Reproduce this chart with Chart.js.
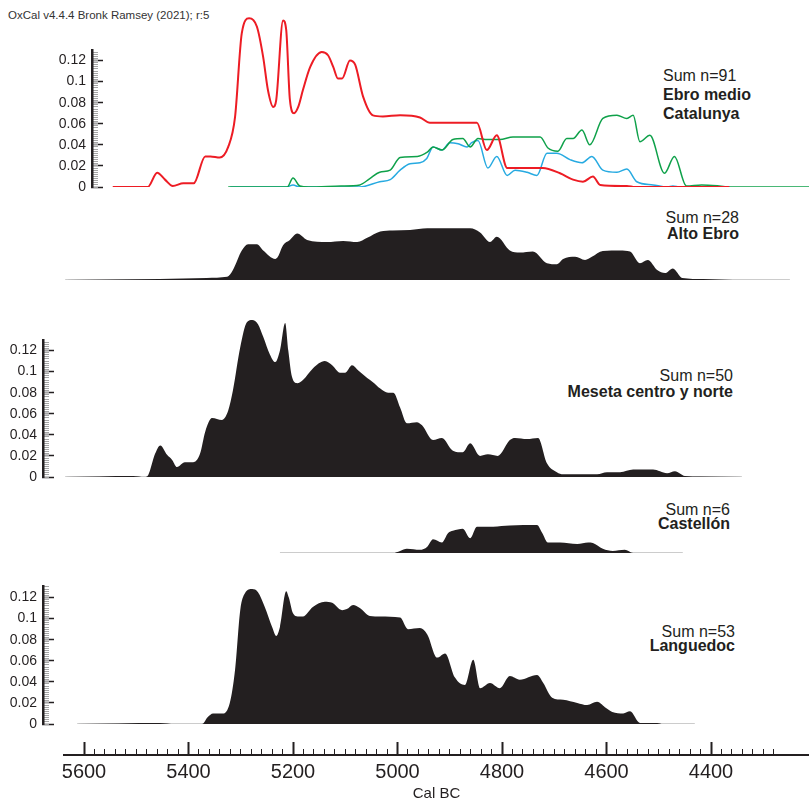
<!DOCTYPE html>
<html>
<head>
<meta charset="utf-8">
<script src="https://cdn.jsdelivr.net/npm/chart.js@4.4.0/dist/chart.umd.min.js"></script>
<style>
  body { margin: 0; background: #fff; }
  #wrap { position: relative; width: 809px; height: 803px; overflow: hidden; background: #fff;
          font-family: 'Liberation Sans', Arial, sans-serif; color: #231f20; }
  #wrap canvas { position: absolute; }
  .lbl { position: absolute; font-size: 16px; line-height: 16px; white-space: nowrap; }
  .b { font-weight: bold; }
</style>
</head>
<body>
<div id="wrap">
  <div class="lbl" style="left:8px;top:10px;font-size:11.5px;line-height:11.5px;color:#333">OxCal v4.4.4 Bronk Ramsey (2021); r:5</div>
  <div class="lbl" style="left:663px;top:67.5px">Sum n=91</div>
  <div class="lbl b" style="left:663px;top:86.5px">Ebro medio</div>
  <div class="lbl b" style="left:663px;top:105.5px">Catalunya</div>
  <div class="lbl" style="right:70px;top:209.5px">Sum n=28</div>
  <div class="lbl b" style="right:70px;top:225.5px">Alto Ebro</div>
  <div class="lbl" style="right:76px;top:367.5px">Sum n=50</div>
  <div class="lbl b" style="right:76px;top:383.5px">Meseta centro y norte</div>
  <div class="lbl" style="right:79px;top:501.5px">Sum n=6</div>
  <div class="lbl b" style="right:79px;top:515.5px">Castellón</div>
  <div class="lbl" style="right:74px;top:623.5px">Sum n=53</div>
  <div class="lbl b" style="right:74px;top:637.5px">Languedoc</div>
</div>
<script>
// datos (Cal BC, probabilidad sumada)
const redYears = [5545, 5478, 5460, 5445, 5430, 5410, 5390, 5368, 5358, 5340, 5324, 5311, 5298, 5284, 5269, 5257, 5248, 5238, 5232, 5219, 5213, 5206, 5198, 5190, 5181, 5167, 5145, 5133, 5123, 5114, 5106, 5091, 5081, 5066, 5047, 5028, 4995, 4957, 4938, 4848, 4829, 4810, 4790, 4722, 4689, 4664, 4645, 4626, 4612, 4561, 4545, 4365];
const redVals = [0, 0, 0.0136, 0.007, 0.001, 0.0035, 0.0035, 0.029, 0.029, 0.028, 0.038, 0.066, 0.146, 0.160, 0.152, 0.123, 0.092, 0.076, 0.083, 0.158, 0.149, 0.083, 0.070, 0.076, 0.092, 0.114, 0.128, 0.125, 0.114, 0.103, 0.103, 0.120, 0.116, 0.086, 0.068, 0.067, 0.068, 0.066, 0.061, 0.061, 0.035, 0.049, 0.018, 0.018, 0.013, 0.007, 0.005, 0.01, 0.002, 0.001, 0, 0];

const blueYears = [5320, 5212, 5200, 5187, 5072, 5034, 5014, 4995, 4976, 4957, 4944, 4932, 4915, 4900, 4884, 4867, 4858, 4846, 4827, 4810, 4790, 4775, 4752, 4733, 4714, 4695, 4670, 4647, 4628, 4607, 4580, 4561, 4542, 4511, 4484, 4473, 4459, 4365];
const blueVals = [0, 0, 0.002, 0, 0, 0.005, 0.007, 0.016, 0.022, 0.023, 0.027, 0.038, 0.035, 0.042, 0.041, 0.038, 0.042, 0.044, 0.018, 0.029, 0.011, 0.016, 0.014, 0.011, 0.032, 0.032, 0.026, 0.023, 0.029, 0.016, 0.014, 0.017, 0.005, 0.002, 0, 0.001, 0, 0];

const greenYears = [5324, 5211, 5200, 5187, 5170, 5108, 5072, 5053, 5034, 5014, 4995, 4962, 4943, 4932, 4915, 4894, 4875, 4861, 4846, 4829, 4804, 4779, 4727, 4712, 4693, 4676, 4664, 4647, 4632, 4607, 4580, 4561, 4549, 4536, 4517, 4489, 4470, 4447, 4418, 4384, 4365, 4212];
const greenVals = [0, 0, 0.0085, 0.001, 0, 0.001, 0.002, 0.008, 0.014, 0.016, 0.028, 0.029, 0.033, 0.038, 0.035, 0.045, 0.046, 0.038, 0.046, 0.045, 0.045, 0.0475, 0.0475, 0.037, 0.034, 0.046, 0.046, 0.054, 0.040, 0.065, 0.068, 0.065, 0.068, 0.043, 0.049, 0.013, 0.029, 0.001, 0.002, 0.001, 0, 0];

const altoYears = [5636, 5455, 5365, 5326, 5315, 5298, 5286, 5269, 5257, 5234, 5229, 5219, 5206, 5192, 5173, 5135, 5104, 5077, 5058, 5033, 5009, 4976, 4943, 4900, 4861, 4842, 4823, 4810, 4785, 4766, 4741, 4714, 4695, 4683, 4660, 4641, 4628, 4607, 4574, 4555, 4536, 4521, 4503, 4488, 4473, 4455, 4415, 4358];
const altoVals = [0, 0.001, 0.002, 0.003, 0.0095, 0.028, 0.034, 0.034, 0.028, 0.020, 0.022, 0.033, 0.038, 0.044, 0.038, 0.036, 0.037, 0.036, 0.040, 0.046, 0.047, 0.0475, 0.049, 0.049, 0.049, 0.045, 0.036, 0.041, 0.028, 0.026, 0.027, 0.016, 0.015, 0.020, 0.022, 0.019, 0.022, 0.0275, 0.028, 0.027, 0.016, 0.019, 0.0095, 0.0066, 0.011, 0.002, 0.001, 0];

const mesetaYears = [5636, 5506, 5484, 5477, 5464, 5454, 5441, 5431, 5422, 5407, 5391, 5378, 5368, 5355, 5336, 5324, 5315, 5301, 5288, 5278, 5267, 5257, 5244, 5234, 5225, 5215, 5209, 5202, 5192, 5181, 5162, 5139, 5125, 5110, 5100, 5087, 5075, 5058, 5047, 5033, 5018, 5008, 4995, 4982, 4963, 4953, 4932, 4915, 4894, 4875, 4861, 4842, 4827, 4808, 4785, 4775, 4752, 4731, 4714, 4695, 4683, 4618, 4599, 4574, 4549, 4511, 4484, 4469, 4450, 4421, 4341];
const mesetaVals = [0, 0.001, 0, 0.002, 0.022, 0.030, 0.021, 0.016, 0.0095, 0.014, 0.014, 0.022, 0.043, 0.056, 0.054, 0.063, 0.082, 0.123, 0.147, 0.149, 0.145, 0.133, 0.116, 0.109, 0.120, 0.146, 0.120, 0.095, 0.089, 0.092, 0.103, 0.110, 0.106, 0.099, 0.099, 0.106, 0.101, 0.094, 0.090, 0.084, 0.080, 0.080, 0.066, 0.051, 0.052, 0.049, 0.035, 0.037, 0.025, 0.0235, 0.032, 0.020, 0.0215, 0.020, 0.035, 0.037, 0.036, 0.037, 0.013, 0.0045, 0.0025, 0.0025, 0.0045, 0.0045, 0.007, 0.007, 0.0035, 0.0055, 0.001, 0.0005, 0];

const castYears = [5225, 5009, 4995, 4982, 4957, 4943, 4932, 4915, 4903, 4894, 4875, 4861, 4848, 4817, 4785, 4733, 4723, 4712, 4689, 4656, 4635, 4626, 4607, 4588, 4565, 4549, 4454];
const castVals = [0, 0, 0.002, 0.004, 0.003, 0.006, 0.013, 0.010, 0.019, 0.021, 0.023, 0.014, 0.025, 0.025, 0.026, 0.0265, 0.019, 0.010, 0.010, 0.0085, 0.010, 0.0095, 0.004, 0.002, 0.003, 0, 0];

const langYears = [5613, 5455, 5426, 5374, 5363, 5353, 5334, 5321, 5311, 5301, 5292, 5278, 5267, 5254, 5240, 5232, 5225, 5213, 5208, 5200, 5190, 5181, 5162, 5139, 5125, 5106, 5097, 5085, 5072, 5053, 5033, 4995, 4980, 4957, 4943, 4924, 4909, 4890, 4871, 4855, 4842, 4823, 4804, 4785, 4766, 4733, 4721, 4704, 4683, 4656, 4637, 4618, 4603, 4589, 4568, 4555, 4536, 4503, 4492, 4431];
const langVals = [0, 0.001, 0, 0, 0.0066, 0.010, 0.010, 0.020, 0.051, 0.108, 0.124, 0.128, 0.125, 0.111, 0.092, 0.0835, 0.092, 0.126, 0.120, 0.105, 0.102, 0.102, 0.111, 0.116, 0.115, 0.108, 0.109, 0.113, 0.110, 0.1025, 0.102, 0.101, 0.090, 0.091, 0.085, 0.063, 0.067, 0.044, 0.037, 0.061, 0.034, 0.039, 0.034, 0.0455, 0.042, 0.0465, 0.039, 0.025, 0.023, 0.020, 0.018, 0.021, 0.016, 0.0115, 0.010, 0.012, 0.001, 0.001, 0, 0];

// extremos de la linea base gris de cada suma
const altoSpan = [5636, 4249];
const mesetaSpan = [5636, 4341];
const castSpan = [5225, 4454];
const langSpan = [5613, 4431];

// ticks
const xMajorTicks = [5600, 5400, 5200, 5000, 4800, 4600, 4400];
const xMinorRange = [4280, 5600];
const yMajorTicks = [0, 0.02, 0.04, 0.06, 0.08, 0.1, 0.12];

// escala de la figura
const PX_5600 = 84, PX_PER_YR = 0.5225, PX_PER_UNIT = 1054;
const FONT = "'Liberation Sans', Arial, sans-serif";
const NARROW = "'Liberation Sans Narrow', 'Liberation Sans', Arial, sans-serif";
const INK = '#231f20';

const wrap = document.getElementById('wrap');
function yrAt(px) { return 5600 - (px - PX_5600) / PX_PER_YR; }
function pts(xs, ys) { return xs.map((x, i) => ({x: x, y: ys[i]})); }

function addCanvas(top, w, h) {
  const c = document.createElement('canvas');
  c.width = w; c.height = h;
  c.style.left = '0px'; c.style.top = top + 'px';
  wrap.appendChild(c);
  return c;
}

const baseOpts = {
  responsive: false, animation: false, events: [],
  plugins: {legend: {display: false}, tooltip: {enabled: false}},
  elements: {point: {radius: 0}, line: {cubicInterpolationMode: 'monotone'}}
};

// sin margen extra para las etiquetas de los extremos
function noPad(s) {
  s.paddingTop = 0; s.paddingBottom = 0; s.paddingLeft = 0; s.paddingRight = 0;
}

function dataPanel(top, baseline, datasets) {
  const c = addCanvas(top, 809, baseline - top + 5);
  new Chart(c, {
    type: 'line',
    data: {datasets: datasets},
    options: Object.assign({}, baseOpts, {
      layout: {padding: {top: 0, left: 0, right: 0, bottom: 5}},
      scales: {
        x: {type: 'linear', display: false, reverse: true, min: yrAt(809), max: yrAt(0)},
        y: {type: 'linear', display: false, min: 0, max: (baseline - top) / PX_PER_UNIT}
      }
    })
  });
}

function filled(xs, ys) {
  return {data: pts(xs, ys), fill: 'origin', backgroundColor: INK, borderColor: INK, borderWidth: 0};
}
function baseLine(span) {
  return {data: pts(span, [0, 0]), borderColor: '#9a9a9a', borderWidth: 1.2, fill: false};
}

function yAxisPanel(axisX, axisTop, baseline) {
  const top = axisTop - 4;
  const c = addCanvas(top, axisX + 20, baseline - top + 12);
  const max = (baseline - axisTop) / PX_PER_UNIT;
  new Chart(c, {
    type: 'line',
    data: {datasets: []},
    options: Object.assign({}, baseOpts, {
      layout: {padding: {top: 4, left: 0, right: 0, bottom: 12}},
      scales: {
        x: {type: 'linear', display: false, min: 0, max: 1},
        y: {
          type: 'linear', position: 'left', weight: 1, min: 0, max: max,
          afterFit: s => { s.width = axisX; noPad(s); },
          afterBuildTicks: s => { s.ticks = yMajorTicks.map(v => ({value: v})); },
          border: {display: true, color: INK, width: 2.5},
          grid: {drawOnChartArea: false, drawTicks: true, tickLength: -11, tickColor: INK, tickWidth: 1.5},
          ticks: {padding: 17, autoSkip: false, color: INK, font: {family: FONT, size: 14},
                  callback: v => String(+v.toFixed(3))}
        },
        yMinor: {
          type: 'linear', position: 'left', weight: 0, min: 0, max: max,
          afterFit: s => { s.width = 0; noPad(s); },
          afterBuildTicks: s => {
            const t = [];
            for (let i = 0; i * 0.002 <= max + 1e-9; i++) t.push({value: i * 0.002});
            s.ticks = t;
          },
          border: {display: false},
          grid: {drawOnChartArea: false, drawTicks: true, tickLength: -6, tickColor: '#a5a5a5', tickWidth: 1},
          ticks: {display: false}
        }
      }
    })
  });
}

function xAxisPanel(axisY) {
  const top = 700, h = 103, scaleH = 48;
  const c = addCanvas(top, 809, h);
  const min = yrAt(809), max = yrAt(64);
  new Chart(c, {
    type: 'line',
    data: {datasets: []},
    options: Object.assign({}, baseOpts, {
      layout: {padding: {top: 0, left: 64, right: 0, bottom: top + h - axisY - scaleH}},
      scales: {
        y: {type: 'linear', display: false, min: 0, max: 1},
        x: {
          type: 'linear', position: 'bottom', weight: 1, reverse: true, min: min, max: max,
          afterFit: s => { s.height = scaleH; noPad(s); },
          afterBuildTicks: s => { s.ticks = xMajorTicks.map(v => ({value: v})); },
          border: {display: true, color: INK, width: 2},
          grid: {drawOnChartArea: false, drawTicks: true, tickLength: -13, tickColor: INK, tickWidth: 2},
          ticks: {padding: 18, autoSkip: false, maxRotation: 0, color: INK,
                  font: {family: NARROW, size: 20}, callback: v => String(v)},
          title: {display: true, text: 'Cal BC', color: INK, font: {family: FONT, size: 15}, padding: 0}
        },
        xMinor: {
          type: 'linear', position: 'bottom', weight: 0, reverse: true, min: min, max: max,
          afterFit: s => { s.height = 0; noPad(s); },
          afterBuildTicks: s => {
            const t = [];
            for (let v = xMinorRange[1]; v >= xMinorRange[0]; v -= 20) t.push({value: v});
            s.ticks = t;
          },
          border: {display: false},
          grid: {drawOnChartArea: false, drawTicks: true, tickLength: -6, tickColor: INK, tickWidth: 1},
          ticks: {display: false}
        }
      }
    })
  });
}

// panel 1: Ebro medio / Catalunya
dataPanel(0, 187, [
  {data: pts(redYears, redVals), borderColor: '#ed1c24', borderWidth: 2, fill: false},
  {data: pts(greenYears, greenVals), borderColor: '#0fa14a', borderWidth: 1.5, fill: false},
  {data: pts(blueYears, blueVals), borderColor: '#27aae1', borderWidth: 1.5, fill: false}
]);
yAxisPanel(92, 50, 187);

// panel 2: Alto Ebro
dataPanel(200, 280, [filled(altoYears, altoVals), baseLine(altoSpan)]);

// panel 3: Meseta
dataPanel(300, 477, [filled(mesetaYears, mesetaVals), baseLine(mesetaSpan)]);
yAxisPanel(43, 340, 477);

// panel 4: Castellon
dataPanel(490, 553, [filled(castYears, castVals), baseLine(castSpan)]);

// panel 5: Languedoc
dataPanel(570, 724, [filled(langYears, langVals), baseLine(langSpan)]);
yAxisPanel(43, 586, 724);

xAxisPanel(755);
</script>
</body>
</html>
